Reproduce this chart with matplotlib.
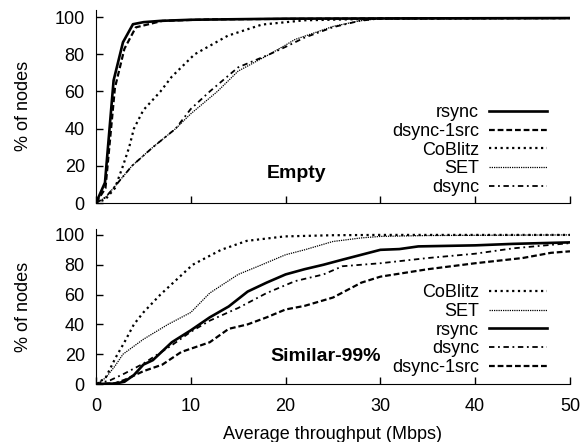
import numpy as np
import matplotlib.pyplot as plt

plt.rcParams['font.family'] = ['Liberation Sans', 'DejaVu Sans']

## Data (Mbps, % of nodes)
# Empty
e_rsync_x = [0, 0.95, 1.86, 2.85, 3.9, 5.0, 6.8, 10, 20, 50]
e_rsync_y = [0, 11, 66, 86.5, 96.2, 97.3, 98, 98.6, 99.2, 99.5]
e_d1src_x = [0, 1.0, 2.0, 3.0, 4.2, 7.0, 12, 25, 50]
e_d1src_y = [0, 8, 62, 83, 94.5, 98, 98.8, 99.2, 99.5]
e_coblitz_x = [0, 1.0, 2.0, 2.85, 3.5, 4.0, 5.0, 6.8, 8.0, 10.4, 13.9, 17.5, 22, 30, 50]
e_coblitz_y = [0, 2, 8, 20, 30, 40, 50, 60, 68, 80, 90, 96, 98.3, 99.2, 99.5]
e_set_x = [0, 1, 2, 3.8, 6, 8.4, 10, 12.8, 15, 18.3, 20, 21, 25, 27.8, 30, 50]
e_set_y = [0, 3, 9, 20, 30, 40, 48, 60, 71, 80, 85, 88, 95, 98, 99.3, 99.5]
e_dsync_x = [0, 1, 2, 3.8, 6, 8.4, 10, 12, 15, 18.3, 20, 22, 25, 27.8, 30, 50]
e_dsync_y = [0, 3, 9, 20, 30, 40, 50.6, 60, 73, 80, 84, 89, 94.6, 98, 99.3, 99.5]

# Similar-99%
s_coblitz_x = [0, 1, 2.1, 3, 4, 5, 6.8, 8.5, 10.2, 13.2, 15.9, 19.9, 25, 30, 50]
s_coblitz_y = [0, 4, 18, 28, 40, 48, 60, 70, 80, 90, 96, 99, 99.8, 100, 100]
s_set_x = [0, 1, 2, 2.85, 5, 7.6, 10, 12, 15, 17.5, 20, 22, 25, 28, 30, 35, 50]
s_set_y = [0, 4, 12, 20, 30, 40, 48, 61, 73.5, 80, 86.7, 90, 95.6, 98, 99, 99.6, 100]
s_rsync_x = [0, 2, 3, 4, 5, 6, 8, 10, 12, 14, 16, 18, 20, 22, 24, 26, 28, 30, 32, 34, 40, 44, 50]
s_rsync_y = [0, 0.3, 1.5, 6, 13, 16, 28, 36, 44.7, 52, 62, 68, 73.5, 77, 80, 83.4, 86.7, 90, 90.5, 92.3, 93, 94, 95]
s_dsync_x = [0, 1.5, 3, 5, 8, 10, 12, 15, 18, 21, 24, 26, 30, 35, 40, 44, 50]
s_dsync_y = [0, 2.5, 7, 13.7, 26, 35, 42.5, 51, 61, 69, 73.5, 79, 81, 84.5, 87.4, 91, 94.5]
s_d1src_x = [0, 2, 3, 5, 7, 9, 12, 14, 16, 18, 20, 22, 25, 28, 30, 35, 40, 45, 48, 50]
s_d1src_y = [0, 0.5, 2.7, 8.6, 13, 21.5, 28, 37, 40, 44.7, 50, 52.4, 58, 68, 72, 77, 81, 84.5, 88, 89]

styles = {
    'rsync': dict(color='black', lw=1.9, ls='-'),
    'dsync-1src': dict(color='black', lw=1.6, ls=(0, (2.6, 1.3))),
    'CoBlitz': dict(color='black', lw=1.6, ls=(0, (1, 1.6))),
    'SET': dict(color='black', lw=0.9, ls=(0, (1, 0.8))),
    'dsync': dict(color='black', lw=1.3, ls=(0, (3, 2, 1, 2))),
}

fig = plt.figure(figsize=(5.87, 4.42), dpi=100)
ax1 = fig.add_axes([0.1635, 0.5407, 0.8075, 0.4373])
ax2 = fig.add_axes([0.1635, 0.1312, 0.8075, 0.3508])

ax1.plot(e_rsync_x, e_rsync_y, label='rsync', **styles['rsync'])
ax1.plot(e_d1src_x, e_d1src_y, label='dsync-1src', **styles['dsync-1src'])
ax1.plot(e_coblitz_x, e_coblitz_y, label='CoBlitz', **styles['CoBlitz'])
ax1.plot(e_set_x, e_set_y, label='SET', **styles['SET'])
ax1.plot(e_dsync_x, e_dsync_y, label='dsync', **styles['dsync'])

ax2.plot(s_coblitz_x, s_coblitz_y, label='CoBlitz', **styles['CoBlitz'])
ax2.plot(s_set_x, s_set_y, label='SET', **styles['SET'])
ax2.plot(s_rsync_x, s_rsync_y, label='rsync', **styles['rsync'])
ax2.plot(s_dsync_x, s_dsync_y, label='dsync', **styles['dsync'])
ax2.plot(s_d1src_x, s_d1src_y, label='dsync-1src', **styles['dsync-1src'])

fs = 13
for ax, y0 in ((ax1, 0.035), (ax2, 0.05)):
    ax.set_xlim(0, 50)
    ax.set_ylim(0, 104)
    ax.set_xticks([0, 10, 20, 30, 40, 50])
    ax.set_yticks([0, 20, 40, 60, 80, 100])
    ax.spines['top'].set_visible(False)
    ax.spines['right'].set_visible(False)
    ax.tick_params(direction='in', length=5, width=1, labelsize=fs, pad=8)
    ax.tick_params(axis='x', pad=10)
    ax.set_ylabel('% of nodes', fontsize=fs, labelpad=16)
    ax.legend(loc='lower right', markerfirst=False, frameon=False,
              fontsize=fs, handlelength=3.2, labelspacing=0.1,
              handletextpad=0.55, borderaxespad=0, borderpad=0,
              bbox_to_anchor=(0.951, y0))

ax1.tick_params(axis='x', labelbottom=False)
ax1.text(0.424, 0.155, 'Empty', transform=ax1.transAxes, fontsize=fs + 1,
         fontweight='bold', ha='center', va='center')
ax2.text(0.485, 0.18, 'Similar-99%', transform=ax2.transAxes, fontsize=fs + 1,
         fontweight='bold', ha='center', va='center')
ax2.set_xlabel('Average throughput (Mbps)', fontsize=fs, labelpad=8)

fig.savefig('out.png', dpi=100)
